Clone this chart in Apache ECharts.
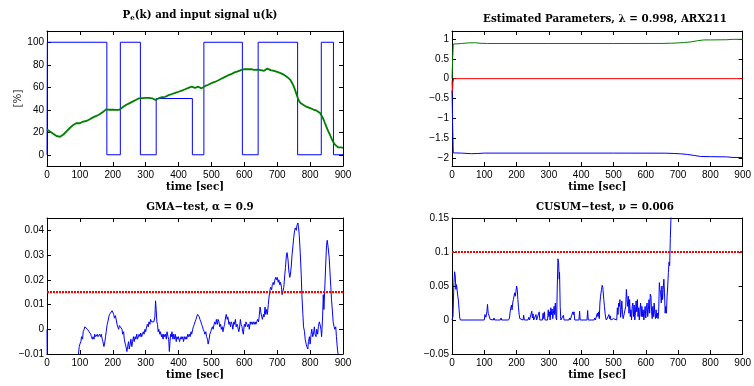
<!DOCTYPE html>
<html><head><meta charset="utf-8">
<script src="https://cdn.jsdelivr.net/npm/echarts@6/dist/echarts.min.js"></script>
<style>html,body{margin:0;padding:0;background:#fff}#c{width:754px;height:386px}</style>
</head><body><div id="c"></div>
<script>
// ---------- DATA ----------
const timeTicks = [0,100,200,300,400,500,600,700,800,900];
const peTicks = [0,20,40,60,80,100];
const parTicks = [-2,-1.5,-1,-0.5,0,0.5,1];
const gmaTicks = [-0.01,0,0.01,0.02,0.03,0.04];
const cusumTicks = [-0.05,0,0.05,0.1,0.15];

// input signal u(k) [%] : [time, level] held until next breakpoint
const inputU = [[0,0],[1,100],[182,0],[223,100],[284,0],[332,50],[442,0],[477,100],[594,0],[642,100],[762,0],[834,100],[871,0],[900,0]];

// Pe(k) [%]
const pe = [[0,22.5],[5,21],[10,20.5],[15,19],[20,18.5],[25,17],[30,16.5],[35,17.2],[40,16],[45,17.5],[50,18],[55,19.5],[60,21],[65,22.5],[70,24],[75,25.2],[80,26.5],[85,27],[90,28.2],[95,28.5],[100,28],[105,29.2],[110,29.5],[115,30.3],[120,30],[125,31.2],[130,31.5],[135,32],[140,33.2],[145,33.5],[150,34.5],[155,35.8],[160,36],[165,37.2],[170,38],[175,39.5],[180,40.3],[185,40.5],[190,40],[195,40.6],[200,40],[205,40.5],[210,39.8],[215,40.3],[220,40],[225,41],[230,42.2],[235,43],[240,44.2],[245,44.5],[250,45.7],[255,46.5],[260,47.2],[265,48],[270,48.7],[275,49.5],[280,50.2],[285,50.7],[290,50.4],[295,50],[300,50.6],[305,50],[310,50.5],[315,49.5],[320,50.2],[325,49.6],[330,48.6],[335,50],[340,50.3],[345,51],[350,51.2],[355,52],[360,51.5],[365,52.6],[370,53],[375,53.2],[380,54],[385,54.6],[390,55],[395,55.8],[400,56],[405,56.7],[410,57],[415,57.8],[420,58.2],[425,59],[430,59.5],[435,60.2],[440,60.5],[445,60],[450,59.5],[455,60.2],[460,60.5],[465,59.6],[470,59],[475,60],[480,61],[485,61.6],[490,62.2],[495,63],[500,63.6],[505,64],[510,64.7],[515,65.2],[520,66],[525,66.6],[530,67.5],[535,68.2],[540,69],[545,69.6],[550,70.5],[555,71.2],[560,71.6],[565,72.5],[570,73.2],[575,73.6],[580,74.2],[585,74.6],[590,75.2],[595,75.6],[600,76.2],[605,76.6],[610,76],[615,77],[620,76.2],[625,76.6],[630,75.5],[635,75.2],[640,75.6],[645,74.6],[650,75.2],[655,75],[660,74.6],[665,75.6],[670,76.6],[675,76.2],[680,75.2],[685,75],[690,74.6],[695,74.2],[700,73.6],[705,73.2],[710,72.6],[715,72.2],[720,71.2],[725,70.2],[730,69.2],[735,68.2],[740,66.5],[745,64],[750,61],[755,57],[760,52.5],[765,48.5],[770,46.2],[775,45],[780,44.2],[785,43.2],[790,42.5],[795,42.2],[800,41.5],[805,41.2],[810,40.2],[815,39.5],[820,39.2],[825,38.2],[830,37.2],[835,35.5],[840,32],[845,28.2],[850,24.5],[855,21],[860,18],[865,14.5],[870,11.5],[875,9.2],[880,7.5],[885,6.6],[890,6],[895,6.6],[900,6]];

// Estimated parameters
const parA1 = [[0,-0.3],[2,-1.2],[4,-1.87],[30,-1.875],[60,-1.89],[80,-1.885],[100,-1.875],[300,-1.875],[500,-1.875],[660,-1.877],[690,-1.885],[710,-1.895],[730,-1.91],[750,-1.935],[770,-1.96],[800,-1.965],[850,-1.97],[870,-1.985],[900,-1.985]];
const parA2 = [[0,0],[2,0.5],[4,0.87],[10,0.875],[30,0.885],[50,0.9],[70,0.905],[90,0.89],[110,0.885],[300,0.885],[500,0.885],[650,0.887],[680,0.893],[700,0.9],[720,0.91],[740,0.925],[760,0.955],[780,0.975],[800,0.975],[850,0.98],[870,0.99],[900,0.99]];
const parB1 = [[0,-0.05],[1,-0.35],[3,-0.1],[5,0],[900,0]];

// GMA test statistic
const gma = [[0,0.000],[1,-0.02],[90,-0.02],[95,-0.011],[98,-0.007],[100,-0.006],[103,-0.005],[105,-0.003],[108,-0.004],[110,-0.001],[113,0.000],[115,0.001],[118,0.0005],[120,0.001],[123,0.000],[125,0.0005],[128,-0.001],[130,-0.0005],[133,-0.002],[135,-0.003],[138,-0.004],[140,-0.003],[143,-0.004],[145,-0.002],[148,-0.003],[150,-0.0025],[153,-0.002],[155,-0.003],[158,-0.0025],[160,-0.002],[163,-0.003],[165,-0.002],[168,-0.004],[170,-0.005],[173,-0.007],[175,-0.006],[178,-0.003],[180,-0.001],[183,0.002],[185,0.003],[188,0.005],[190,0.006],[193,0.0065],[195,0.006],[198,0.0075],[200,0.007],[203,0.006],[205,0.0045],[208,0.0055],[210,0.005],[213,0.002],[215,0.001],[218,0.000],[220,0.0015],[223,0.001],[225,0.0015],[228,0.000],[230,-0.002],[233,-0.001],[235,-0.004],[238,-0.006],[240,-0.007],[243,-0.009],[245,-0.007],[248,-0.005],[250,-0.008],[253,-0.006],[255,-0.004],[258,-0.007],[260,-0.005],[263,-0.003],[265,-0.005],[268,-0.003],[270,-0.004],[273,-0.002],[275,-0.004],[278,-0.003],[280,-0.002],[283,-0.003],[285,-0.0015],[288,-0.003],[290,-0.002],[293,-0.001],[295,-0.002],[298,0.000],[300,-0.001],[303,0.001],[305,0.002],[308,0.001],[310,0.003],[313,0.002],[315,0.004],[318,0.003],[320,0.003],[323,0.0035],[325,0.003],[328,0.005],[330,0.0115],[332,0.008],[334,0.003],[336,0.002],[338,-0.001],[340,0.000],[343,-0.002],[345,-0.001],[348,-0.003],[350,-0.002],[353,-0.004],[355,-0.002],[358,-0.003],[360,-0.002],[363,-0.004],[365,-0.001],[368,-0.003],[370,-0.004],[372,-0.009],[374,-0.005],[376,-0.002],[378,-0.003],[380,-0.001],[383,-0.004],[385,-0.002],[388,-0.004],[390,-0.002],[393,-0.005],[395,-0.003],[398,-0.004],[400,-0.003],[403,-0.005],[405,-0.004],[408,-0.003],[410,-0.004],[413,-0.003],[415,-0.005],[418,-0.003],[420,-0.004],[423,-0.003],[425,-0.004],[428,-0.002],[430,-0.003],[433,-0.002],[435,-0.003],[438,-0.001],[440,-0.002],[443,0.000],[445,0.001],[448,0.002],[450,0.003],[453,0.004],[455,0.005],[458,0.006],[460,0.0055],[463,0.005],[465,0.004],[468,0.003],[470,0.002],[473,0.001],[475,0.000],[478,-0.001],[480,-0.002],[483,-0.001],[485,-0.003],[488,-0.004],[490,-0.006],[493,-0.004],[495,-0.002],[498,-0.001],[500,0.000],[503,0.001],[505,0.000],[508,0.002],[510,0.003],[513,0.002],[515,0.004],[518,0.002],[520,0.004],[523,0.003],[525,0.001],[528,0.002],[530,0.000],[533,0.001],[535,-0.001],[538,0.001],[540,0.002],[543,0.005],[545,0.006],[548,0.004],[550,0.005],[553,0.002],[555,0.003],[558,0.001],[560,0.003],[563,0.002],[565,0.000],[568,0.003],[570,0.002],[573,0.004],[575,0.001],[578,0.002],[580,0.001],[583,-0.001],[585,0.000],[588,0.004],[590,0.002],[593,0.001],[595,-0.001],[597,-0.002],[600,0.002],[603,0.001],[605,0.003],[608,0.002],[610,0.001],[613,0.002],[615,0.000],[618,0.003],[620,0.002],[623,0.003],[625,0.002],[628,0.003],[630,0.002],[633,0.003],[635,0.002],[638,0.003],[640,0.004],[643,0.003],[645,0.005],[648,0.009],[650,0.007],[653,0.005],[655,0.004],[658,0.006],[660,0.005],[663,0.009],[665,0.006],[668,0.008],[670,0.006],[673,0.010],[675,0.013],[678,0.016],[680,0.017],[683,0.016],[685,0.018],[688,0.019],[690,0.018],[693,0.020],[695,0.021],[698,0.020],[700,0.021],[703,0.019],[705,0.020],[708,0.018],[710,0.019],[713,0.017],[715,0.014],[717,0.0135],[720,0.017],[723,0.022],[725,0.025],[728,0.030],[730,0.031],[733,0.028],[735,0.024],[738,0.021],[740,0.022],[743,0.026],[745,0.030],[748,0.034],[750,0.037],[753,0.040],[755,0.041],[758,0.040],[760,0.042],[763,0.043],[765,0.041],[767,0.038],[770,0.031],[773,0.022],[775,0.014],[778,0.006],[780,0.001],[783,-0.001],[785,-0.004],[788,-0.006],[790,-0.007],[793,-0.008],[795,-0.005],[798,-0.003],[800,-0.006],[803,-0.002],[805,0.000],[808,-0.003],[810,-0.002],[813,0.001],[815,-0.002],[818,-0.003],[820,0.000],[823,-0.002],[825,0.001],[828,0.003],[830,0.002],[833,0.000],[835,-0.003],[838,0.005],[840,0.014],[842,0.008],[845,0.018],[848,0.028],[850,0.034],[852,0.036],[855,0.033],[858,0.029],[860,0.024],[863,0.017],[865,0.012],[868,0.007],[870,0.003],[873,0.001],[875,0.000],[878,0.001],[880,-0.003],[883,-0.008],[885,-0.010],[888,-0.013],[900,-0.02]];
const gmaThreshold = 0.015;

// CUSUM test statistic
const cusum = [[0,0],[3,0.005],[6,0.055],[8,0.071],[10,0.065],[12,0.045],[14,0.052],[16,0.05],[18,0.035],[20,0.028],[22,0.015],[24,0.003],[26,0],[100,0],[102,0.008],[105,0.004],[108,0.012],[110,0.023],[112,0.01],[115,0.006],[118,0.001],[120,0],[128,0],[130,0.003],[132,0],[140,0],[142,0.002],[144,0],[150,0],[152,0.003],[154,0],[175,0],[178,0.003],[180,0.012],[182,0.01],[184,0.022],[186,0.015],[188,0.025],[190,0.03],[192,0.028],[194,0.04],[196,0.035],[198,0.042],[200,0.05],[202,0.045],[204,0.03],[206,0.018],[208,0.008],[210,0.002],[212,0],[220,0],[222,0.007],[224,0],[235,0],[238,0.004],[240,0],[245,0],[247,0.013],[249,0.003],[251,0.009],[253,0],[258,0],[260,0.008],[262,0],[268,0],[270,0.012],[272,0],[280,0],[282,0.01],[284,0.002],[286,0.012],[288,0],[296,0],[298,0.015],[300,0.005],[302,0.012],[304,0],[306,0.018],[308,0.008],[310,0.016],[312,0.002],[314,0.01],[316,0.02],[318,0.008],[320,0.025],[322,0.003],[324,0],[326,0.05],[328,0.09],[330,0.085],[332,0.06],[333,0.07],[335,0.02],[337,0],[343,0],[345,0.007],[347,0],[362,0],[364,0.003],[366,0],[372,0],[374,0.012],[376,0.008],[378,0.012],[380,0],[393,0],[395,0.013],[397,0],[418,0],[420,0.014],[422,0],[440,0],[442,0.003],[444,0],[448,0],[450,0.01],[452,0.005],[454,0.012],[456,0.002],[458,0.025],[460,0.035],[463,0.045],[465,0.051],[467,0.048],[470,0.03],[472,0.02],[474,0.01],[476,0.003],[478,0],[484,0],[486,0.008],[488,0.002],[490,0.006],[492,0],[498,0],[500,0.002],[502,0],[510,0],[512,0.018],[514,0.008],[516,0.025],[518,0.02],[520,0.03],[522,0.004],[524,0.015],[526,0.028],[528,0.008],[530,0.002],[532,0],[536,0],[538,0.02],[540,0.045],[542,0.03],[544,0.02],[546,0.035],[548,0.01],[550,0.03],[552,0.005],[554,0.015],[556,0],[558,0.02],[560,0.025],[562,0.005],[564,0.022],[566,0],[568,0.01],[570,0.028],[572,0.012],[574,0.03],[576,0.005],[578,0.018],[580,0],[582,0.015],[584,0.025],[586,0.005],[588,0.02],[590,0.005],[592,0.015],[594,0],[596,0.01],[598,0.02],[600,0.003],[602,0.018],[604,0.025],[606,0.005],[608,0.015],[610,0.03],[612,0.01],[614,0.038],[616,0.035],[618,0.012],[620,0.002],[622,0.02],[624,0.005],[626,0.025],[628,0.01],[630,0.002],[632,0.015],[634,0.003],[636,0.01],[638,0.002],[640,0.012],[642,0.055],[644,0.045],[646,0.04],[648,0.025],[650,0.05],[652,0.03],[654,0.045],[656,0.06],[658,0.04],[660,0.01],[662,0.02],[664,0.01],[666,0.035],[668,0.05],[670,0.07],[672,0.085],[674,0.08],[676,0.12],[678,0.15],[680,0.17],[685,0.22]];
const cusumThreshold = 0.1;

// ---------- CHART ----------
const SANS = '"Liberation Sans", Arial, sans-serif';
const SERIF = '"DejaVu Serif", "Liberation Serif", serif';
const minus = v => String(v).replace('-', '\u2212');

const grids = [
  {left:47, top:31, width:296, height:135},
  {left:452, top:31, width:295, height:135},
  {left:47, top:218, width:296, height:136},
  {left:452, top:218, width:295, height:136}
];
const yRanges = [[-10,110,peTicks],[-2.2,1.2,parTicks],[-0.01,0.045,gmaTicks],[-0.05,0.15,cusumTicks]];

const nameStyle = {fontFamily:SERIF, fontWeight:'bold', fontSize:10.3, color:'#000'};
const xAxis = [], yAxis = [];
grids.forEach((g, i) => {
  const common = {type:'value', gridIndex:i, splitLine:{show:false},
    axisLine:{show:true, onZero:false, lineStyle:{color:'#000', width:1}},
    axisTick:{show:true, inside:true, length:4, lineStyle:{color:'#000'}}};
  xAxis.push(Object.assign({}, common, {position:'bottom', min:0, max:900,
    axisTick:Object.assign({}, common.axisTick, {customValues:timeTicks}),
    axisLabel:{customValues:timeTicks, fontFamily:SANS, fontSize:10, color:'#000', margin:4},
    name:'time [sec]', nameLocation:'middle', nameGap:16, nameTextStyle:nameStyle}));
  xAxis.push(Object.assign({}, common, {position:'top', min:0, max:900,
    axisTick:Object.assign({}, common.axisTick, {customValues:timeTicks}),
    axisLabel:{show:false}}));
  const [mn, mx, tk] = yRanges[i];
  const yl = Object.assign({}, common, {position:'left', min:mn, max:mx,
    axisTick:Object.assign({}, common.axisTick, {customValues:tk}),
    axisLabel:{customValues:tk, fontFamily:SANS, fontSize:10, color:'#000', margin:3, formatter:minus}});
  if (i === 0) Object.assign(yl, {name:'[%]', nameLocation:'middle', nameGap:24, nameRotate:90,
    nameTextStyle:{fontFamily:SERIF, fontWeight:'normal', fontSize:10.3, color:'#000'}});
  yAxis.push(yl);
  yAxis.push(Object.assign({}, common, {position:'right', min:mn, max:mx,
    axisTick:Object.assign({}, common.axisTick, {customValues:tk}),
    axisLabel:{show:false}}));
});

const titleStyle = {fontFamily:SERIF, fontWeight:'bold', fontSize:10.3, color:'#000'};
const title = [
  {text:'{b|P}{s|e}{b|(k) and input signal u(k)}', left:195, top:3, textAlign:'center',
    textStyle:{rich:{b:titleStyle, s:Object.assign({}, titleStyle, {fontSize:7, padding:[7,0,0,0]})}}},
  {text:'Estimated Parameters, \u03bb = 0.998, ARX211', left:600, top:9, textAlign:'center', textStyle:titleStyle},
  {text:'GMA\u2212test, \u03b1 = 0.9', left:195, top:197, textAlign:'center', textStyle:titleStyle},
  {text:'CUSUM\u2212test, \u03bd = 0.006', left:600, top:197, textAlign:'center', textStyle:titleStyle}
];

const line = (gi, data, color, width, extra) => Object.assign({type:'line', xAxisIndex:gi*2, yAxisIndex:gi*2,
  data, symbol:'none', clip:true, animation:false, lineStyle:{color, width}}, extra || {});

const series = [
  line(0, inputU, '#0000ff', 1, {step:'end'}),
  line(0, pe, '#008000', 1.8),
  line(1, parA2, '#008000', 1),
  line(1, parB1, '#ff0000', 1),
  line(1, parA1, '#0000ff', 1),
  line(2, gma, '#0000ff', 1),
  line(2, [[0,gmaThreshold],[900,gmaThreshold]], '#ff0000', 2.2, {lineStyle:{color:'#ff0000', width:2.2, type:[2,1]}}),
  line(3, cusum, '#0000ff', 1),
  line(3, [[0,cusumThreshold],[900,cusumThreshold]], '#ff0000', 2.2, {lineStyle:{color:'#ff0000', width:2.2, type:[2,1]}})
];

const chart = echarts.init(document.getElementById('c'), null, {renderer:'canvas'});
chart.setOption({animation:false, backgroundColor:'#fff', title, grid:grids, xAxis, yAxis, series});
</script></body></html>
